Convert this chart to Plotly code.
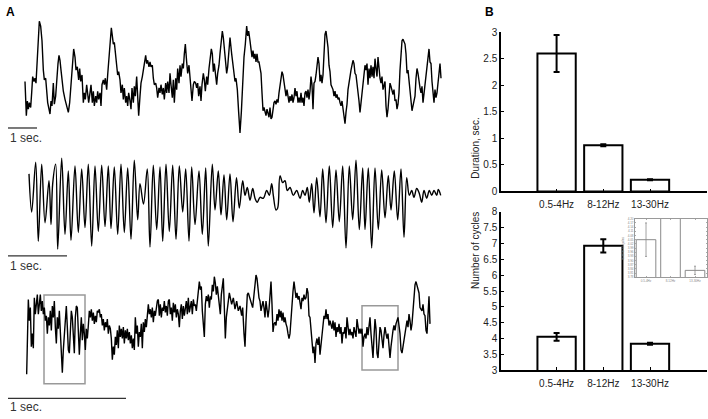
import plotly.graph_objects as go

W, H = 708, 419
FONT = "Liberation Sans, Arial, sans-serif"

# ── Panel A: EEG traces, (sample, amplitude) pairs ─────────────────────────
FS1 = 87    # samples per second, trace 1
FS2 = 59    # trace 2
FS3 = 354   # trace 3

EEG1 = [
    (75, 15), (79, -90), (82, -45), (85, -70), (88, -50), (92, -65), (95, -20), (98, 30),
    (102, 15), (105, 25), (108, 10), (110, 45), (113, 130), (118, 200), (122, 185), (126, 140),
    (130, 50), (133, 20), (137, 25), (140, -15), (143, -50), (147, -70), (150, -85), (153, -45),
    (156, -60), (160, 10), (163, -55), (167, -30), (170, 30), (174, 70), (177, 95), (180, 80),
    (183, 50), (187, 5), (190, -15), (195, -40), (200, -60), (205, -80), (209, -50), (213, 0),
    (217, 70), (221, 115), (225, 90), (228, 50), (232, 60), (236, 20), (239, 55), (242, 15),
    (246, 35), (250, -50), (253, -20), (256, -40), (260, 5), (263, -35), (266, -50), (270, -20),
    (273, 5), (277, -50), (280, -15), (283, -60), (287, -30), (290, -50), (293, -15), (296, -40),
    (300, -20), (303, -60), (306, 5), (310, 20), (313, 5), (316, 25), (320, -10), (323, 35),
    (327, 90), (330, 120), (334, 180), (337, 155), (340, 130), (343, 135), (347, 100), (350, 75),
    (353, 35), (356, 45), (360, 20), (363, -20), (367, 5), (370, -40), (373, -5), (377, -50),
    (380, -30), (383, -60), (386, -20), (390, -45), (393, -70), (396, -5), (400, -50), (403, 0),
    (406, -30), (410, 30), (413, -20), (416, -90), (420, -30), (423, 10), (427, 30), (430, 50),
    (433, 75), (437, 95), (440, 70), (443, 80), (447, 60), (450, 75), (453, 60), (457, 65),
    (460, 25), (463, 5), (467, 10), (470, -5), (473, -35), (477, -5), (480, -20), (483, 5),
    (487, -25), (490, -5), (493, -40), (497, 10), (500, -20), (503, 15), (507, -20), (510, 40),
    (513, 5), (517, -35), (520, 20), (523, -50), (527, 25), (530, -10), (533, 55), (537, 10),
    (540, 65), (543, 30), (547, 70), (550, 55), (553, 100), (556, 130), (560, 75), (563, 40),
    (567, 65), (570, 35), (573, 0), (576, -45), (580, 5), (583, 15), (587, 10), (590, -5),
    (593, 10), (596, -30), (600, 0), (603, -45), (606, 5), (610, 40), (613, 20), (616, -15),
    (620, 30), (623, 5), (627, 55), (630, 85), (634, 115), (637, 100), (640, 45), (643, 70),
    (647, 40), (650, 5), (653, 40), (657, 65), (660, 100), (663, 130), (667, 170), (670, 150),
    (673, 120), (677, 70), (680, 40), (683, 60), (687, 120), (690, 150), (695, 100), (700, 50),
    (705, 15), (708, 25), (712, -10), (716, -80), (720, -143), (724, -80), (728, 30), (732, 90),
    (736, 130), (740, 185), (743, 155), (746, 170), (750, 140), (753, 115), (756, 90), (759, 110),
    (762, 85), (765, 100), (768, 75), (771, 100), (774, 75), (777, 75), (780, 60), (783, 40),
    (786, -20), (789, -75), (792, -65), (795, -75), (798, -90), (801, -70), (804, -80), (807, -95),
    (810, -65), (813, -100), (816, -95), (819, -70), (822, -50), (825, -45), (828, -55), (831, -40),
    (834, -50), (837, -20), (840, 0), (843, 15), (846, 45), (849, 35), (852, 10), (855, -10),
    (858, -30), (861, -10), (864, -35), (867, -50), (870, -30), (873, -45), (876, -25), (879, -50),
    (882, -35), (885, -5), (888, -30), (891, -15), (894, -50), (897, -35), (900, -50), (903, -20),
    (906, -50), (909, -35), (912, -60), (915, -20), (918, -15), (921, -35), (924, -10), (927, -40),
    (930, -15), (933, 30), (936, 5), (939, -70), (942, 10), (945, 15), (948, 35), (951, 55),
    (954, 90), (957, 70), (960, 15), (963, 35), (966, 10), (969, 35), (972, 100), (975, 160),
    (978, 170), (981, 145), (984, 120), (987, 65), (990, 45), (993, 5), (996, -5), (999, -10),
    (1002, -30), (1005, -15), (1008, -35), (1011, -25), (1014, -40), (1017, -35), (1020, -50),
    (1023, -60), (1026, -45), (1029, -75), (1032, -95), (1035, -115), (1038, -80), (1041, -55),
    (1044, -10), (1047, 15), (1050, 30), (1053, 50), (1056, 65), (1059, 80), (1062, 70), (1065, 40),
    (1068, 35), (1071, 10), (1074, -5), (1077, -45), (1080, -80), (1083, -50), (1086, -35),
    (1089, -10), (1092, 30), (1095, 65), (1098, 50), (1101, 70), (1104, 5), (1107, 55), (1110, 25),
    (1113, 65), (1116, 30), (1119, 60), (1122, 25), (1125, 85), (1128, 55), (1131, 30), (1134, 90),
    (1137, 50), (1140, 25), (1143, 10), (1146, 30), (1149, -10), (1152, 0), (1155, 15), (1158, -60),
    (1161, -95), (1164, -70), (1167, -40), (1170, 10), (1173, 0), (1176, -20), (1179, -25),
    (1182, -10), (1185, -45), (1188, -40), (1191, -70), (1194, -55), (1197, -20), (1200, 50),
    (1203, 110), (1206, 140), (1209, 145), (1212, 135), (1215, 130), (1218, 100), (1221, 40),
    (1224, 50), (1227, 20), (1230, -10), (1233, -50), (1236, -75), (1239, -60), (1242, -45),
    (1245, -30), (1248, 25), (1251, 55), (1254, 40), (1257, 10), (1260, -5), (1263, -20), (1266, 0),
    (1269, -50), (1272, -20), (1275, 0), (1278, 25), (1281, 65), (1284, 100), (1287, 115),
    (1290, 75), (1293, 70), (1296, 15), (1299, -10), (1302, -50), (1305, -10), (1308, -35),
    (1311, -20), (1314, 10), (1317, 60), (1320, 70), (1323, 25),
]

EEG2 = [
    (29, 25), (31.7, -14), (35.7, 37), (38.3, -44), (41.7, 35), (45, -25), (49, 18), (51, -27),
    (52.7, 15), (55.7, 35), (57.7, -52), (61.7, 41), (65, -37), (68.3, 28), (71, -43), (75, 33),
    (78.3, -35), (81.7, 30), (85, -30), (88.3, 35), (91.7, -49), (95, 33), (98.3, -34), (101.7, 34),
    (105, -29), (108.3, 33), (111, -31), (114.3, 32), (117.7, -37), (121, 35), (124.3, -35),
    (127.7, 31), (131, -42), (134.3, 39), (137.7, -22), (140, 15), (143.5, -6), (147.3, 30),
    (150, -50), (153.3, 34), (156.7, -32), (160, 32), (162.7, -44), (166, 35), (169.3, -34),
    (172.7, 34), (176, -42), (179.3, 33), (182.7, -14), (185.7, 30), (189, -44), (191.7, 32),
    (195, -27), (199, 28), (202.3, -37), (205.7, 31), (208.3, -49), (212.3, 35), (215, -12),
    (218.3, 28), (221, -17), (224, 24), (226.7, -22), (230, 25), (233, -24), (236.5, 21),
    (239.3, -10), (242.7, 18), (245, 3), (247.3, 11), (250, -2), (252.7, 10), (255, 0), (257.3, -4),
    (260, 1), (263.3, 0), (266.7, 8), (269.3, 3), (271.7, 15), (273.3, 3), (276, -12), (277.7, -10),
    (280, 23), (282.7, 16), (285, 18), (287.3, 8), (290, 11), (293.3, 3), (296.7, 8), (300, 0),
    (302.7, 8), (305, 3), (307.3, 11), (309.3, -4), (311.7, 15), (314, -15), (316.7, 21),
    (320, -19), (322.7, 30), (326, -25), (329.3, 33), (332.7, -30), (336, 29), (339.3, -24),
    (342.7, 33), (346, -51), (349.3, 33), (352.7, -22), (356, 39), (359.3, -32), (362.7, 31),
    (365, -32), (368.3, 31), (371.7, -51), (375, 31), (378.3, -32), (381.7, 29), (385, -20),
    (388.3, 23), (391, -12), (394.3, 28), (397.7, -22), (401, 30), (404, -40), (406.7, 21),
    (409.3, 3), (411.7, 8), (414, 1), (416.7, 10), (419.3, 5), (421.7, -4), (424, 8), (426.7, 0),
    (429.3, 8), (431.7, 3), (434, 8), (436.7, 3), (438.3, 9), (440.7, 3),
]

EEG3 = [
    (80, -165), (85, 65), (88, 0), (91, 40), (94, -80), (97, -40), (100, -85), (103, 70),
    (106, 20), (109, 50), (112, 80), (115, 20), (118, 65), (121, 80), (124, 30), (127, 60),
    (130, 20), (133, 40), (136, 0), (139, 15), (142, -40), (145, 10), (148, -15), (151, 30),
    (154, -30), (157, 45), (160, 10), (163, 60), (166, -20), (169, -70), (172, 10), (175, -25),
    (178, 30), (181, -50), (184, -110), (187, -160), (190, -90), (193, -30), (196, 10), (199, 45),
    (202, -20), (205, -90), (208, -100), (211, -40), (214, 30), (217, 10), (220, -70), (223, -100),
    (226, 10), (229, 45), (232, 40), (235, -30), (238, -105), (241, -40), (244, 10), (247, -60),
    (250, -10), (253, -40), (256, -90), (259, -25), (262, -55), (265, -15), (268, 30), (271, 10),
    (274, 35), (277, 0), (280, 25), (283, -10), (286, 15), (289, -5), (292, 30), (295, 25),
    (298, 35), (301, 10), (304, 20), (307, -15), (310, 5), (313, -30), (316, -5), (319, -20),
    (322, 5), (325, -40), (328, -15), (331, -25), (334, -55), (337, -120), (340, -80), (343, -105),
    (346, -50), (349, -75), (352, -30), (355, -85), (358, -15), (361, -50), (364, -25), (367, -55),
    (370, -20), (373, -70), (376, -30), (379, -55), (382, -25), (385, -60), (388, -35), (391, -70),
    (394, -45), (397, -85), (400, -55), (403, -90), (406, 10), (409, -40), (412, -15), (415, -80),
    (418, -35), (421, -50), (424, -10), (427, -85), (430, -5), (433, -35), (436, 5), (439, -20),
    (442, 15), (445, 50), (448, 20), (451, 35), (454, 10), (457, 40), (460, -5), (463, 30),
    (466, 15), (469, 40), (472, 60), (475, 65), (478, 15), (481, 50), (484, 10), (487, 40),
    (490, 30), (493, 60), (496, 25), (499, 45), (502, 15), (505, 60), (508, 65), (511, 20),
    (514, 40), (517, 0), (520, 55), (523, 25), (526, 50), (529, 10), (532, 35), (535, 20),
    (538, -20), (541, 30), (544, 50), (547, 5), (550, 45), (553, 15), (556, 40), (559, 60),
    (562, 20), (565, 70), (568, 25), (571, 45), (574, 60), (577, 20), (580, 65), (583, 45),
    (586, 50), (589, 30), (592, 70), (595, 100), (598, 120), (601, 95), (604, 105), (607, 30),
    (610, -15), (613, -50), (616, 50), (619, 75), (622, 60), (625, 80), (628, 40), (631, 75),
    (634, 65), (637, 110), (640, 90), (643, 135), (646, 115), (649, 80), (652, 105), (655, 70),
    (658, 50), (661, 20), (664, 80), (667, 115), (670, 130), (673, 40), (676, -55), (679, 10),
    (682, 40), (685, 70), (688, 85), (695, 50), (700, 70), (705, 35), (710, 60), (715, 30),
    (720, 45), (725, 15), (728, 40), (732, -40), (735, -80), (738, 0), (742, 80), (745, 85),
    (748, 75), (752, 60), (755, 50), (758, 40), (761, 70), (765, 110), (768, 140), (771, 130),
    (774, 95), (777, 70), (780, 60), (783, 30), (786, 45), (789, 60), (792, 40), (795, 10),
    (798, 60), (801, 35), (804, 10), (807, 35), (810, 90), (813, 120), (816, 50), (819, -35),
    (822, -10), (825, -5), (828, -15), (831, 20), (834, 0), (837, 35), (840, 10), (843, 30),
    (846, 0), (849, 25), (852, -5), (855, 10), (858, -10), (861, -20), (864, -40), (867, -55),
    (870, -40), (873, 15), (876, 60), (879, 90), (882, 120), (885, 95), (888, 70), (891, 85),
    (894, 65), (897, 75), (900, 50), (903, 35), (906, 70), (909, 60), (912, 80), (915, 65),
    (918, 70), (921, 100), (924, 85), (927, 15), (930, 10), (933, -35), (936, -65), (939, -100),
    (942, -80), (945, -130), (948, -70), (951, -55), (954, -75), (957, -50), (960, -105), (963, -65),
    (966, -45), (969, -15), (972, 15), (975, 5), (978, 35), (981, 5), (984, 20), (987, -15),
    (990, 0), (993, -15), (996, -25), (999, 0), (1002, -30), (1005, -5), (1008, -50), (1011, -20),
    (1014, -35), (1017, -10), (1020, -40), (1023, -20), (1026, -70), (1029, -35), (1032, -40),
    (1035, -20), (1038, -55), (1041, 10), (1044, -30), (1047, -45), (1050, -25), (1053, -45),
    (1056, -35), (1059, -55), (1062, -20), (1065, -35), (1068, -50), (1071, 5), (1074, -25),
    (1077, -40), (1080, -25), (1083, -40), (1086, -25), (1089, -80), (1092, -50), (1095, -40),
    (1098, -55), (1101, -20), (1104, -45), (1107, -15), (1110, 10), (1113, -40), (1116, -95),
    (1119, -115), (1122, -50), (1125, 5), (1128, -25), (1131, -100), (1134, -115), (1137, -40),
    (1140, -20), (1143, -30), (1146, -70), (1149, -85), (1152, -45), (1155, -20), (1158, -40),
    (1161, -55), (1164, -40), (1167, -75), (1170, -115), (1173, -80), (1176, -40), (1179, -30),
    (1182, -15), (1185, -30), (1188, -10), (1191, 0), (1194, 10), (1197, -15), (1200, -40),
    (1203, -90), (1206, -100), (1209, -80), (1212, -60), (1215, -30), (1218, -15), (1221, 0),
    (1224, -20), (1227, 20), (1230, 0), (1233, -30), (1236, -10), (1239, 30), (1242, 80),
    (1245, 110), (1248, 120), (1251, 105), (1254, 100), (1257, 85), (1260, 40), (1263, 35),
    (1266, 30), (1269, 50), (1272, 20), (1275, 15), (1278, -30), (1281, -40), (1284, 20),
    (1287, 75), (1290, -10),
]

# zoomed windows on trace 3: (t0, t1, v0, v1)
ZOOM_WINDOWS = [(132, 255, -194, 79), (1086, 1194, -152, 46)]

# ── Panel B: band statistics ───────────────────────────────────────────────
BANDS = ["0.5-4Hz", "8-12Hz", "13-30Hz"]
DURATION = [2.60, 0.87, 0.22]
DURATION_ERR = [0.35, 0.02, 0.01]
CYCLES = [4.05, 6.93, 3.83]
CYCLES_ERR = [0.12, 0.21, 0.03]


def px_x(a, b):
    return [a / W, b / W]


def px_y(top, bottom):
    return [1 - bottom / H, 1 - top / H]


def py(p):
    return 1 - p / H


fig = go.Figure()

for i, (data, shape) in enumerate([(EEG1, "linear"), (EEG2, "spline"), (EEG3, "linear")]):
    t, v = zip(*data)
    ax = "" if i == 0 else str(i + 1)
    fig.add_trace(go.Scatter(
        x=t, y=v, mode="lines", xaxis="x" + ax, yaxis="y" + ax,
        line=dict(color="black", width=1.4, shape=shape),
        hoverinfo="skip",
    ))

hidden = dict(visible=False, showgrid=False, zeroline=False)
layout = dict(
    xaxis=dict(domain=px_x(0, 445), range=[0, 1335], anchor="y", **hidden),
    yaxis=dict(domain=px_y(8, 140), range=[-170, 226], anchor="x", **hidden),
    xaxis2=dict(domain=px_x(0, 445), range=[0, 445], anchor="y2", **hidden),
    yaxis2=dict(domain=px_y(145, 272), range=[-74, 53], anchor="x2", **hidden),
    xaxis3=dict(domain=px_x(0, 445), range=[0, 1335], anchor="y3", **hidden),
    yaxis3=dict(domain=px_y(272, 419), range=[-287, 154], anchor="x3", **hidden),
)

# bar charts
bar_axis = dict(showline=True, linecolor="black", linewidth=1.5, ticks="inside",
                ticklen=3, tickcolor="black", showgrid=False, zeroline=False,
                tickfont=dict(size=10, color="#222"))
for k, (vals, errs, yr, dom) in enumerate([
        (DURATION, DURATION_ERR, [0, 3], px_y(28, 191)),
        (CYCLES, CYCLES_ERR, [3, 8], px_y(212, 374))]):
    n = str(k + 4)
    fig.add_trace(go.Bar(
        x=[1, 2, 3], y=vals, width=0.82, xaxis="x" + n, yaxis="y" + n,
        marker=dict(color="white", line=dict(color="black", width=2)),
        error_y=dict(type="data", array=errs, color="black", thickness=2, width=3),
        hoverinfo="skip",
    ))
    layout["xaxis" + n] = dict(domain=px_x(501, 707), range=[-0.19, 4.22], anchor="y" + n,
                               tickvals=[1, 2, 3], ticktext=BANDS, ticklabelstandoff=3,
                               **bar_axis)
    layout["yaxis" + n] = dict(domain=dom, range=yr, dtick=0.5, anchor="x" + n, **bar_axis)

# inset: close-up of the cycles chart
fig.add_trace(go.Bar(
    x=[1, 2, 3], y=CYCLES, width=0.8, xaxis="x6", yaxis="y6",
    marker=dict(color="white", line=dict(color="#8a8a8a", width=1)),
    error_y=dict(type="data", array=CYCLES_ERR, color="#8a8a8a", thickness=0.8, width=1),
    hoverinfo="skip",
))
inset_axis = dict(showline=True, linecolor="#9a9a9a", linewidth=0.8, mirror="allticks",
                  ticks="inside", ticklen=1.5, tickcolor="#aaa", showgrid=False,
                  zeroline=False, tickfont=dict(size=3, color="#888"))
layout["xaxis6"] = dict(domain=px_x(635, 707), range=[0.55, 3.49], anchor="y6",
                        tickvals=[1, 2, 3], ticktext=BANDS, **inset_axis)
layout["yaxis6"] = dict(domain=px_y(219, 279), range=[3.78, 4.2], tick0=3.78, dtick=0.03,
                        tickformat=".2f", anchor="x6", **inset_axis)

shapes = []
# 1 sec. scale bars
for ax, x0, fs, ypx in [("x", 24, FS1, 126), ("x2", 8, FS2, 257), ("x3", 24, FS3, 403)]:
    shapes.append(dict(type="line", xref=ax, yref="paper", x0=x0, x1=x0 + fs,
                       y0=py(ypx), y1=py(ypx), line=dict(color="#333", width=1.3)))
for t0, t1, v0, v1 in ZOOM_WINDOWS:
    shapes.append(dict(type="rect", xref="x3", yref="y3", x0=t0, x1=t1, y0=v0, y1=v1,
                       line=dict(color="#999", width=1.5), layer="below"))

annotations = []
for ypx in [136, 267, 412]:
    annotations.append(dict(text="1 sec.", xref="paper", yref="paper", x=8 / W, y=py(ypx),
                            xanchor="left", yanchor="middle", showarrow=False,
                            font=dict(size=12, color="#333")))
annotations += [
    dict(text="<b>A</b>", xref="paper", yref="paper", x=4 / W, y=py(7), xanchor="left",
         yanchor="middle", showarrow=False, font=dict(size=12, color="black")),
    dict(text="<b>B</b>", xref="paper", yref="paper", x=483 / W, y=py(7), xanchor="left",
         yanchor="middle", showarrow=False, font=dict(size=12, color="black")),
    dict(text="Duration, sec.", xref="paper", yref="paper", x=483 / W, y=py(112),
         textangle=-90, showarrow=False, font=dict(size=10, color="#222")),
    dict(text="Number of cycles", xref="paper", yref="paper", x=483 / W, y=py(293),
         textangle=-90, showarrow=False, font=dict(size=10, color="#222")),
    dict(text="Number of cycles", xref="paper", yref="paper", x=627 / W, y=py(249),
         textangle=-90, showarrow=False, font=dict(size=3, color="#888")),
]

fig.update_layout(
    width=W, height=H,
    margin=dict(l=0, r=0, t=0, b=0),
    paper_bgcolor="white",
    plot_bgcolor="rgba(0,0,0,0)",
    showlegend=False,
    font=dict(family=FONT, size=10, color="#222"),
    shapes=shapes,
    annotations=annotations,
    **layout,
)

# the page body has a default 8px margin; drop it so the figure fills the window
fig.write_html("out.html", config={"displayModeBar": False},
               post_script="document.body.style.margin='0px';")
